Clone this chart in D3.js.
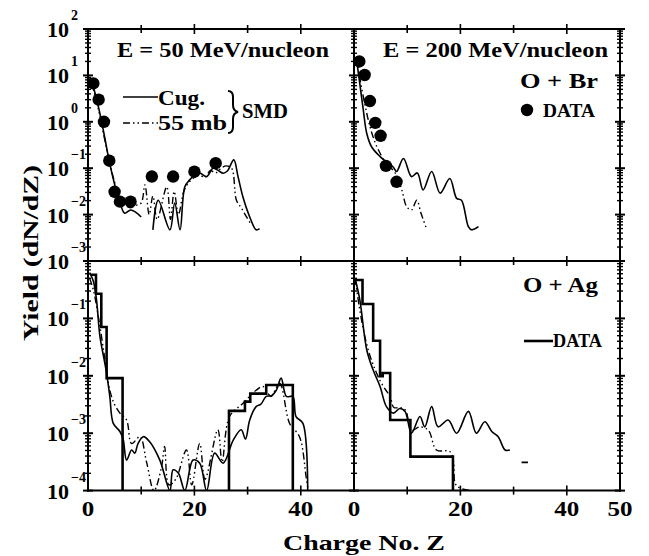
<!DOCTYPE html>
<html><head><meta charset="utf-8">
<script src="https://cdn.jsdelivr.net/npm/d3@7"></script>
<style>
html,body{margin:0;padding:0;background:#fff;}
svg text{font-family:"Liberation Serif","Times New Roman",serif;font-weight:bold;fill:#000;}
</style></head>
<body><svg id="c" width="649" height="556"></svg>
<script>
// ---------- DATA ----------
// Top-left: O + Br, E = 50 MeV/nucleon
const tlDataZ = [1, 2, 3, 4, 5, 6, 8, 12, 16, 20, 24];
const tlDataY = [6.7, 3.0, 1.0, 0.145, 0.031, 0.019, 0.019, 0.066, 0.066, 0.084, 0.128];
const tlCugZ = [0.3, 1, 2, 3, 4, 5, 6, 6.9, 8, 9, 10, 11, 12.2, 13.2, 15.4, 16.3, 17.3, 18.2, 19.1, 20, 21, 22.3, 23.5, 24.5, 25.4, 26.2, 27.4, 28.2, 29.1, 30.4, 31.6, 32.25];
const tlCugY = [9.3, 5.6, 2.0, 0.56, 0.14, 0.045, 0.018, 0.0107, 0.0126, 0.0112, 0.0089, null, 0.0047, 0.0204, 0.0047, 0.0178, 0.0047, 0.040, 0.056, 0.071, 0.079, 0.066, 0.100, 0.089, 0.078, 0.087, 0.151, 0.066, 0.0245, 0.0089, 0.0047, 0.0050];
const tl55Z = [0.3, 1, 2, 3, 4, 5, 6, 7, 8, 9, 10, 10.7, 11.5, 12.2, 13, 14.8, 15.5, 16.2, 17, 18, 19, 20, 21, 22, 23, 24, 25, 26, 27, 27.9, 28.8, 29.8, 30.6];
const tl55Y = [7.9, 5.0, 1.78, 0.50, 0.141, 0.050, 0.0224, 0.0158, 0.0141, 0.0158, 0.0178, 0.0437, 0.010, 0.0251, 0.0079, 0.0398, 0.0079, 0.0316, 0.010, 0.0316, 0.050, 0.063, 0.071, 0.063, 0.089, 0.079, 0.100, 0.112, 0.100, 0.0204, 0.0141, 0.0089, 0.0063];

// Top-right: O + Br, E = 200 MeV/nucleon
const trDataZ = [1, 2, 3, 4, 5, 6, 8];
const trDataY = [20, 10.2, 2.8, 0.95, 0.5, 0.112, 0.051];
const trCugZ = [0.4, 1.0, 1.75, 2.4, 3.3, 4.9, 6.5, 7.4, 8, 9.3, 10.8, 11.9, 13, 14.6, 16.2, 18, 19.3, 20.2, 21.5, 22.1, 23.4];
const trCugY = [25, 7.9, 1.78, 0.56, 0.29, 0.178, 0.126, 0.105, 0.085, 0.162, 0.066, 0.079, 0.034, 0.085, 0.029, 0.060, 0.0224, 0.0204, 0.0055, 0.0047, 0.0055];
const tr55Z = [0.4, 1, 2, 3, 4, 5, 6, 7, 8, 9, 9.9, 10.8, 11.8, 12.6, 13.7];
const tr55Y = [25, 10, 2.5, 0.79, 0.35, 0.20, 0.126, 0.100, 0.071, 0.034, 0.0148, 0.0126, 0.0204, 0.0107, 0.0047];

// Bottom-left: O + Ag, E = 50 MeV/nucleon
const blHistEdges1 = [0.5, 1.5, 2.5, 3.5, 6.5];
const blHistY1 = [0.575, 0.269, 0.0708, 0.0091];
const blHistEdges2 = [26.5, 29.5, 30.5, 33.5, 38.5];
const blHistY2 = [0.00245, 0.00355, 0.0049, 0.0069];
const blCugZ = [0.3, 1, 1.6, 2.25, 3, 3.5, 4.1, 4.75, 6, 6.6, 7.25, 8.2, 8.8, 9.4, 10.4, 11.6, 13.5, 15.4, 16, 17, 18.2, 19.75, 21, 22.3, 23.8, 25.4, 27.3, 28.8, 29.6, 30.4, 31.6, 32.5, 33.5, 34.5, 35.4, 36.3, 37.3, 38.5, 39.1, 40.4, 41.3];
const blCugY = [0.63, 0.447, 0.209, 0.048, 0.020, 0.011, 0.00437, 0.00148, 0.00107, 0.00079, 0.00034, 0.00051, 0.00045, 0.00066, 0.00087, 0.00071, 0.00034, 0.0001, 0.00023, 0.0002, 0.0001, 0.00034, 0.0003, 0.0001, 0.00045, 0.0003, 0.00076, 0.00115, 0.00079, 0.0017, 0.0029, 0.0032, 0.00437, 0.0045, 0.0056, 0.0091, 0.00437, 0.00437, 0.00195, 0.00148, 0.0001];
const bl55Z = [0.3, 1, 2, 3, 4.1, 5, 6, 7.25, 8.2, 9.75, 11, 12.4, 13.8, 14.4, 15.2, 16.5, 18.5, 19.5, 21, 22, 24.4, 25.2, 26.6, 29.1, 31.6, 32.9, 34.4, 36, 37.9, 39.75, 41, 41.4];
const bl55Y = [0.50, 0.316, 0.100, 0.0251, 0.0056, 0.00316, 0.00224, 0.0017, 0.00066, 0.00087, 0.000316, 0.0001, 0.000251, 0.00059, 0.000126, 0.000158, 0.00051, 0.000126, 0.00066, 0.000158, 0.00115, 0.000316, 0.00195, 0.0033, 0.0056, 0.0065, 0.00437, 0.0074, 0.00148, 0.00087, 0.000174, 0.0001];

// Bottom-right: O + Ag, E = 200 MeV/nucleon
const brHistEdges = [0.2, 1.6, 3.6, 4.9, 5.4, 6.8, 10.6, 18.6];
const brHistY = [0.468, 0.178, 0.0407, 0.0098, 0.0112, 0.0017, 0.00039];
const brCugZ = [0.2, 1.1, 2.4, 3.6, 4.9, 6.1, 7.4, 8.6, 9.6, 10.8, 12.4, 13.3, 14.6, 15.8, 17.7, 19.3, 21.5, 23, 24.6, 25.9, 27.1, 28.4, 29.3, 30.5, 31.5, 32.7];
const brCugY = [0.50, 0.209, 0.0282, 0.0126, 0.0065, 0.0029, 0.00224, 0.0027, 0.0024, 0.001, 0.00195, 0.00129, 0.0029, 0.00129, 0.0017, 0.001, 0.0024, 0.001, 0.00158, 0.00107, 0.00087, 0.00051, 0.00051, null, 0.00031, 0.00031];
const br55Z = [0.2, 1, 2, 3, 4, 5, 6, 6.8, 7.5, 8.7, 9.7, 10.8, 12.4, 14, 15.5, 18, 18.7, 19, 19.8, 21.8];
const br55Y = [0.50, 0.158, 0.050, 0.0224, 0.0126, 0.0079, 0.0056, 0.00437, 0.0028, 0.0028, 0.0025, 0.00112, 0.00129, 0.00112, 0.00051, 0.00048, 0.000316, 0.000135, 0.000112, 0.0001];

const xTickLabelsLeft = [0, 20, 40];
const xTickLabelsRight = [0, 20, 40, 50];
const yTopDecades = [-3, -2, -1, 0, 1, 2];
const yBotDecades = [-4, -3, -2, -1];

// ---------- LAYOUT ----------
const X0 = 88, XM = 354, X1 = 620;
const Y0 = 29, YM = 261, Y1 = 490.6;
const svg = d3.select("#c");
svg.append("rect").attr("width", 649).attr("height", 556).attr("fill", "#fff");

const xL = d3.scaleLinear().domain([0, 50]).range([X0, XM]);
const xR = d3.scaleLinear().domain([0, 50]).range([XM, X1]);
const yT = d3.scaleLog().domain([1e-3, 1e2]).range([YM, Y0]);
const yB = d3.scaleLog().domain([1e-4, 1]).range([Y1, YM]);

const DASHDOT = "7,3,1.5,3,1.5,3";

const defs = svg.append("defs");
let clipN = 0;
function panel(x, y) {
  const id = "clip" + (clipN++);
  const xr = x.range(), yr = y.range();
  defs.append("clipPath").attr("id", id).append("rect")
    .attr("x", xr[0]).attr("y", yr[1]).attr("width", xr[1] - xr[0]).attr("height", yr[0] - yr[1]);
  return svg.append("g").attr("clip-path", `url(#${id})`);
}
function curve(g, x, y, Z, Y, dash, w) {
  const pts = Z.map((z, i) => [z, Y[i]]);
  const line = d3.line().defined(d => d[1] != null).x(d => x(d[0])).y(d => y(d[1]))
    .curve(d3.curveCatmullRom.alpha(0.5));
  g.append("path").attr("d", line(pts)).attr("fill", "none").attr("stroke", "#000")
    .attr("stroke-width", w || 1.5).attr("stroke-dasharray", dash || null)
    .attr("stroke-linejoin", "round");
}
function hist(g, x, y, edges, vals, floor) {
  const pts = [];
  if (edges[0] > 5) pts.push([edges[0], floor]);
  for (let i = 0; i < vals.length; i++) {
    pts.push([edges[i], vals[i]]);
    pts.push([edges[i + 1], vals[i]]);
  }
  pts.push([edges[edges.length - 1], floor]);
  const line = d3.line().x(d => x(d[0])).y(d => y(d[1]));
  g.append("path").attr("d", line(pts)).attr("fill", "none").attr("stroke", "#000")
    .attr("stroke-width", 2.6).attr("stroke-linejoin", "miter");
}
function dots(g, x, y, Z, Y) {
  g.selectAll(null).data(Z).enter().append("circle")
    .attr("cx", d => x(d)).attr("cy", (d, i) => y(Y[i])).attr("r", 6.2).attr("fill", "#000");
}

// top-left
const gTL = panel(xL, yT);
curve(gTL, xL, yT, tl55Z, tl55Y, DASHDOT, 1.4);
curve(gTL, xL, yT, tlCugZ, tlCugY, null, 1.6);
dots(gTL, xL, yT, tlDataZ, tlDataY);
// top-right
const gTR = panel(xR, yT);
curve(gTR, xR, yT, tr55Z, tr55Y, DASHDOT, 1.4);
curve(gTR, xR, yT, trCugZ, trCugY, null, 1.6);
dots(gTR, xR, yT, trDataZ, trDataY);
// bottom-left
const gBL = panel(xL, yB);
curve(gBL, xL, yB, bl55Z, bl55Y, DASHDOT, 1.4);
curve(gBL, xL, yB, blCugZ, blCugY, null, 1.6);
hist(gBL, xL, yB, blHistEdges1, blHistY1, 1e-4);
hist(gBL, xL, yB, blHistEdges2, blHistY2, 1e-4);
// bottom-right
const gBR = panel(xR, yB);
curve(gBR, xR, yB, br55Z, br55Y, DASHDOT, 1.4);
curve(gBR, xR, yB, brCugZ, brCugY, null, 1.6);
hist(gBR, xR, yB, brHistEdges, brHistY, 1e-4);

// ---------- FRAMES & TICKS ----------
const axG = svg.append("g").attr("stroke", "#000");
[[X0, Y0, X1, Y0], [X0, YM, X1, YM], [X0, Y1, X1, Y1], [X0, Y0, X0, Y1], [XM, Y0, XM, Y1], [X1, Y0, X1, Y1]]
  .forEach(l => axG.append("line").attr("x1", l[0]).attr("y1", l[1]).attr("x2", l[2]).attr("y2", l[3])
    .attr("stroke-width", 2).attr("stroke-linecap", "square"));

function yTicks(scale, xpos) {
  scale.ticks().forEach(v => {
    const lg = Math.log10(v);
    const major = Math.abs(lg - Math.round(lg)) < 1e-9;
    const L = major ? 5 : 3;
    axG.append("line").attr("x1", xpos - L).attr("x2", xpos + L)
      .attr("y1", scale(v)).attr("y2", scale(v)).attr("stroke-width", major ? 2 : 1.4);
  });
}
[X0, XM, X1].forEach(xp => { yTicks(yT, xp); yTicks(yB, xp); });

function xTicks(scale, ypos) {
  [10, 20, 30, 40].forEach(v => {
    const L = (v % 20 === 0) ? 5 : 4;
    axG.append("line").attr("x1", scale(v)).attr("x2", scale(v))
      .attr("y1", ypos - L).attr("y2", ypos + L).attr("stroke-width", 1.6);
  });
}
[Y0, YM, Y1].forEach(yp => { xTicks(xL, yp); xTicks(xR, yp); });

// ---------- TEXT HELPER ----------
function label(x, y, str, size, opts) {
  opts = opts || {};
  const t = svg.append("text").attr("x", x).attr("y", y).attr("font-size", size)
    .attr("text-anchor", opts.anchor || "start").text(str);
  if (opts.len) t.attr("textLength", opts.len).attr("lengthAdjust", "spacingAndGlyphs");
  if (opts.transform) t.attr("transform", opts.transform);
  return t;
}

// ---------- TICK LABELS ----------
function yLabel(scale, e) {
  const yy = scale(Math.pow(10, e));
  const g = svg.append("g").attr("transform", `translate(69,${yy})`);
  g.append("text").attr("x", 0).attr("y", 8).attr("font-size", 22).attr("text-anchor", "end").text("10");
  g.append("text").attr("x", 2).attr("y", -9).attr("font-size", 14).attr("text-anchor", "start")
    .text(e < 0 ? "\u2212" + (-e) : String(e));
}
yTopDecades.forEach(e => yLabel(yT, e));
yBotDecades.forEach(e => yLabel(yB, e));

xTickLabelsLeft.forEach(v => label(xL(v), 516, String(v), 20, {anchor: "middle", len: String(v).length * 12.5}));
xTickLabelsRight.forEach(v => label(xR(v), 516, String(v), 20, {anchor: "middle", len: String(v).length * 12.5}));

// axis titles
label(364, 550, "Charge No. Z", 21, {anchor: "middle", len: 162});
label(0, 0, "Yield (dN/dZ)", 22, {anchor: "middle", len: 176, transform: "translate(38,253) rotate(-90)"});

// ---------- ANNOTATIONS ----------
label(117, 57, "E = 50 MeV/nucleon", 21, {len: 212});
label(383, 57, "E = 200 MeV/nucleon", 21, {len: 225});
label(520, 88, "O + Br", 21, {len: 78});
svg.append("circle").attr("cx", 527).attr("cy", 110).attr("r", 6.2).attr("fill", "#000");
label(543, 117, "DATA", 19, {len: 52});
label(523, 292, "O + Ag", 21, {len: 75});
svg.append("line").attr("x1", 524).attr("x2", 553).attr("y1", 341).attr("y2", 341).attr("stroke", "#000").attr("stroke-width", 2.6);
label(553, 347, "DATA", 18, {len: 49});

// SMD legend
svg.append("line").attr("x1", 123).attr("x2", 158).attr("y1", 97).attr("y2", 97).attr("stroke", "#000").attr("stroke-width", 1.6);
label(158, 105, "Cug.", 21, {len: 47});
svg.append("line").attr("x1", 123).attr("x2", 158).attr("y1", 123).attr("y2", 123).attr("stroke", "#000").attr("stroke-width", 1.4).attr("stroke-dasharray", DASHDOT);
label(158, 130, "55 mb", 21, {len: 69});
svg.append("path").attr("d", "M228,91 q5,0 5,6 v8 q0,6 5,7 q-5,1 -5,7 v8 q0,6 -5,6")
  .attr("fill", "none").attr("stroke", "#000").attr("stroke-width", 2);
label(242, 118, "SMD", 21, {len: 46});
</script></body></html>
